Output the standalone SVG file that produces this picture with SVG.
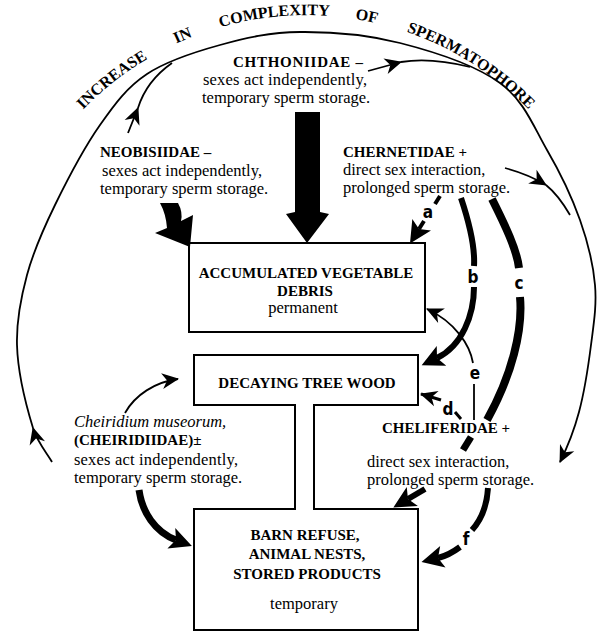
<svg xmlns="http://www.w3.org/2000/svg" width="600" height="635" viewBox="0 0 600 635">
<style>
.t{font-family:"Liberation Serif",serif;font-size:16.5px;fill:#000}
.b{font-family:"Liberation Serif",serif;font-size:15px;font-weight:bold;fill:#000}
.i{font-style:italic}
.arc{font-family:"Liberation Serif",serif;font-size:16px;font-weight:bold;fill:#000}
.lbl{font-family:"Liberation Sans Narrow","DejaVu Sans Condensed","Liberation Sans",sans-serif;font-size:17px;font-weight:bold;fill:#000;text-anchor:middle}
.thin{fill:none;stroke:#000;stroke-width:1.8}
.thick{fill:none;stroke:#000}
.box{fill:none;stroke:#000;stroke-width:2}
.c{text-anchor:middle}
</style>
<defs>
<marker id="ah" markerUnits="userSpaceOnUse" viewBox="-18 -10 20 20" markerWidth="20" markerHeight="20" refX="0" refY="0" orient="auto">
<path d="M1,0 L-16,-8 L-11,0 L-16,8 Z" fill="#000"/>
</marker>
<marker id="ahT" markerUnits="userSpaceOnUse" viewBox="-8 -14 28 28" markerWidth="28" markerHeight="28" refX="0" refY="0" orient="auto">
<path d="M17,0 L-5,-11 L0,0 L-5,11 Z" fill="#000"/>
</marker>
<path id="arcText" d="M40,166 A310,310 0 0 1 575,171"/>
</defs>

<g id="title">
<text class="arc"><textPath href="#arcText" startOffset="71">INCREASE</textPath></text>
<text class="arc"><textPath href="#arcText" startOffset="186">IN</textPath></text>
<text class="arc"><textPath href="#arcText" startOffset="233">COMPLEXITY</textPath></text>
<text class="arc"><textPath href="#arcText" startOffset="369">OF</textPath></text>
<text class="arc"><textPath href="#arcText" startOffset="422">SPERMATOPHORE</textPath></text>
</g>

<g id="connectors">
<!-- big arc -->
<path class="thin" d="M52,462 C48.3,455 36.8,441.5 33,428" marker-end="url(#ah)"/>
<path class="thin" d="M33,428 C25.2,402.5 17.7,369.5 17,345 C16.3,320.5 20.7,298.3 27,275 C33.3,251.7 42.8,230 55,205 C67.2,180 84.7,146.8 100,125 C115.3,103.2 127,87.3 147,74 C167,60.7 194.5,52 220,45 C245.5,38 270,32.3 300,32 C330,31.7 366.7,34.5 400,43 C433.3,51.5 475.5,65.2 500,83 C524.5,100.8 533.7,127.2 547,150 C560.3,172.8 572,197.5 580,220 C588,242.5 593.2,264.2 595,285 C596.8,305.8 593.7,323.8 591,345 C588.3,366.2 584.2,392.5 579,412 C573.8,431.5 566,450 560,462" marker-end="url(#ah)"/>
<!-- Neobisiidae to arc -->
<path class="thin" d="M128,133 L138,108" marker-end="url(#ah)"/>
<path class="thin" d="M138,108 C143,92 152,77 172,63"/>
<!-- Chthoniidae to arc -->
<path class="thin" d="M368,71 L401,62" marker-end="url(#ah)"/>
<path class="thin" d="M401,62 C425,58 450,62 470,67"/>
<!-- Chernetidae to arc -->
<path class="thin" d="M505,168 C520,172 533,177 546,185" marker-end="url(#ah)"/>
<path class="thin" d="M546,185 C556,193 563,203 570,215"/>
<!-- Neobisiidae thick arrow -->
<path d="M160,203 L178,203 Q183,212 181,221 L193,215 L190,247 L155,233 L167,228 Q166,214 160,203 Z" fill="#000"/>
<!-- Chthoniidae thick arrow -->
<path d="M295,112 L320,112 L320,212 L329,214 L307,243 L286,214 L295,212 Z" fill="#000"/>
<!-- a -->
<path class="thick" stroke-width="4" d="M440,196 L435,204"/>
<path class="thick" stroke-width="4" d="M424,221 L419,229" marker-end="url(#ahT)"/>
<!-- b -->
<path class="thick" stroke-width="6" d="M461,198 C470,225 475,250 474,266"/>
<path class="thick" stroke-width="6" d="M474,287 C474,315 462,346 437,358" marker-end="url(#ahT)"/>
<!-- c -->
<path class="thick" stroke-width="8" d="M492,199 C505,225 517,250 519,268"/>
<path class="thick" stroke-width="8" d="M520,297 C523,330 512,375 487,420"/>
<path class="thick" stroke-width="7" d="M471,437 L463,450"/>
<path class="thick" stroke-width="6" d="M425,489 L408,499" marker-end="url(#ahT)"/>
<!-- d -->
<path class="thick" stroke-width="3" d="M441,400 L421,394" marker-end="url(#ah)"/>
<path class="thick" stroke-width="3" d="M455,412 L461,419"/>
<!-- e -->
<path class="thin" stroke-width="2" d="M474,420 L474,384"/>
<path class="thin" stroke-width="2" d="M473,363 C470,345 455,322 427,309" marker-end="url(#ah)"/>
<!-- f -->
<path class="thick" stroke-width="6" d="M488,488 C487,505 481,520 472,530"/>
<path class="thick" stroke-width="6" d="M460,547 C452,553 446,556 438,558" marker-end="url(#ahT)"/>
<!-- Cheiridium arrows -->
<path class="thin" d="M125,413 C135,395 155,382 178,379" marker-end="url(#ah)"/>
<path class="thick" stroke-width="7" d="M139,490 C142,512 155,532 176,540" marker-end="url(#ahT)"/>
</g>

<g id="labels">
<text class="lbl" x="428" y="218">a</text>
<text class="lbl" x="473" y="283">b</text>
<text class="lbl" x="519" y="289">c</text>
<text class="lbl" x="448" y="415">d</text>
<text class="lbl" x="475" y="379">e</text>
<text class="lbl" x="466" y="545">f</text>
</g>

<g id="chthoniidae">
<text class="b" x="233" y="67" textLength="130">CHTHONIIDAE –</text>
<text class="t" x="203" y="85" textLength="164">sexes act independently,</text>
<text class="t" x="202" y="103">temporary sperm storage.</text>
</g>

<g id="neobisiidae">
<text class="b" x="100" y="157">NEOBISIIDAE –</text>
<text class="t" x="102" y="176" textLength="160">sexes act independently,</text>
<text class="t" x="100" y="194">temporary sperm storage.</text>
</g>

<g id="chernetidae">
<text class="b" x="343" y="157">CHERNETIDAE +</text>
<text class="t" x="343" y="175">direct sex interaction,</text>
<text class="t" x="343" y="193">prolonged sperm storage.</text>
</g>

<g id="accumulated">
<rect class="box" x="189" y="243" width="236" height="89"/>
<text class="b c" x="306" y="278">ACCUMULATED VEGETABLE</text>
<text class="b c" x="305" y="296">DEBRIS</text>
<text class="t c" x="303" y="313">permanent</text>
</g>

<g id="wood-barn">
<path class="box" d="M194,355 L418,355 L418,405 L314,405 L314,509 L418,509 L418,630 L194,630 L194,509 L295,509 L295,405 L194,405 Z"/>
<text class="b c" x="307" y="388">DECAYING TREE WOOD</text>
<text class="b c" x="305" y="540">BARN REFUSE,</text>
<text class="b c" x="307" y="559">ANIMAL NESTS,</text>
<text class="b c" x="307" y="579">STORED PRODUCTS</text>
<text class="t c" x="304" y="609">temporary</text>
</g>

<g id="cheiridium">
<text class="t i" x="74" y="427">Cheiridium museorum,</text>
<text class="b" x="74" y="445">(CHEIRIDIIDAE)±</text>
<text class="t" x="74" y="465" textLength="164">sexes act independently,</text>
<text class="t" x="74" y="483">temporary sperm storage.</text>
</g>

<g id="cheliferidae">
<text class="b" x="382" y="433">CHELIFERIDAE +</text>
<text class="t" x="367" y="467">direct sex interaction,</text>
<text class="t" x="367" y="485">prolonged sperm storage.</text>
</g>
</svg>
